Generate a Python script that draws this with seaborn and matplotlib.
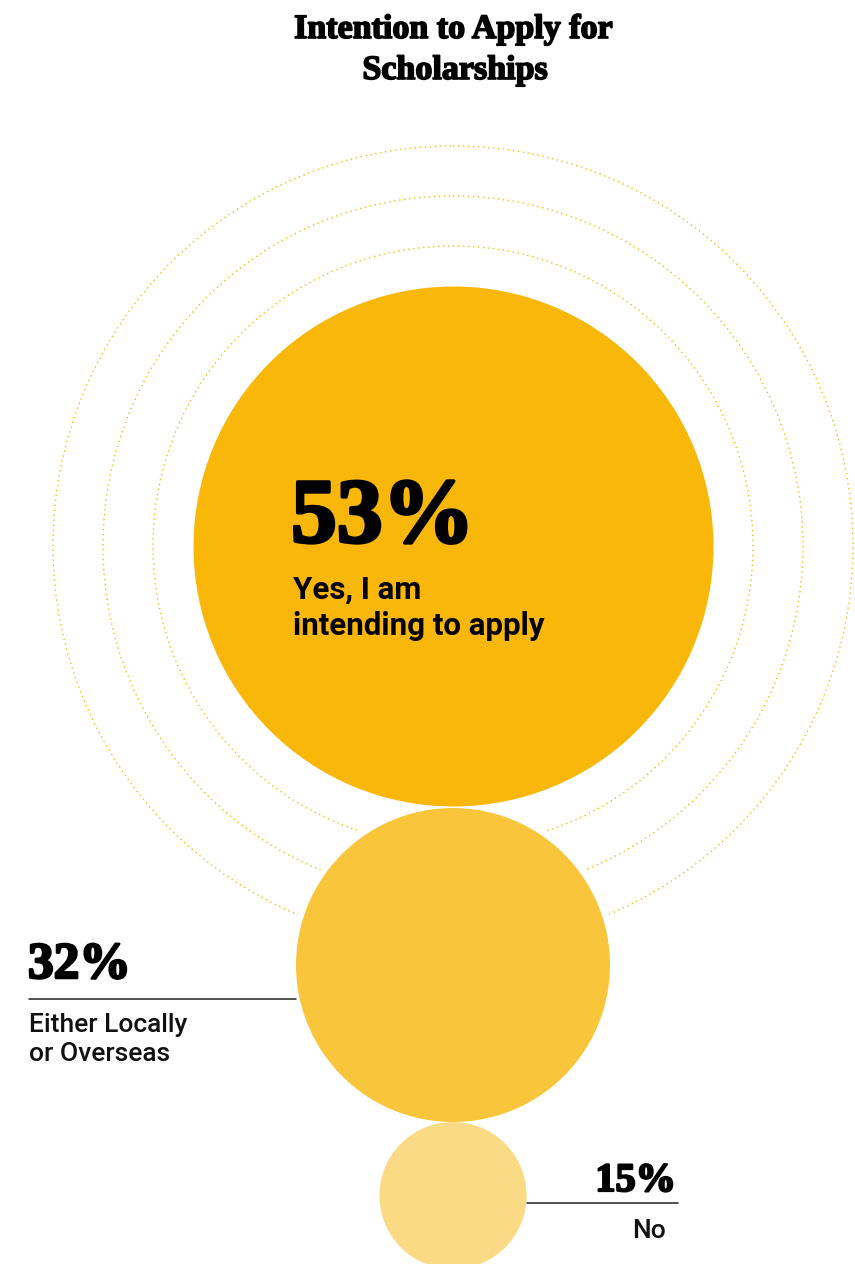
import matplotlib
matplotlib.use("Agg")
import matplotlib.pyplot as plt
import matplotlib.patheffects as pe
from matplotlib.patches import Circle
import seaborn as sns
import pandas as pd

# ---- data ----
categories = ["Yes", "Either", "No"]
values = [53, 32, 15]
pct_labels = ["53%", "32%", "15%"]
descriptions = ["Yes, I am\nintending to apply", "Either Locally\nor Overseas", "No"]
colors = ["#F9B70A", "#F9C53B", "#FBDA86"]
title = "Intention to Apply for\nScholarships"

sns.set_theme(style="white")
plt.rcParams["font.family"] = ["Roboto", "DejaVu Sans"]

W, H, DPI = 855, 1264, 100
fig = plt.figure(figsize=(W / DPI, H / DPI), dpi=DPI)
ax = fig.add_axes([0, 0, 1, 1])

# layout: radius proportional to value
k = 260 / 53
radii = [k * v for v in values]
cx = 453
cy = [546]
cy.append(cy[0] + radii[0] + radii[1] + 2)
cy.append(cy[1] + radii[1] + radii[2])

edge_px = [0, 6, 0]
px2pt = 72 / DPI
sizes = [((2 * r + e) * px2pt) ** 2 for r, e in zip(radii, edge_px)]
df = pd.DataFrame({"x": [cx] * 3, "y": cy, "cat": categories, "s": sizes,
                   "edge": [e * px2pt for e in edge_px]})
palette = dict(zip(categories, colors))

# dotted rings around the main circle
for extra in [40, 90, 140]:
    ax.add_patch(Circle((cx, cy[0]), radii[0] + extra, fill=False,
                        edgecolor=colors[0], lw=1.0, linestyle=(0, (1, 2.6)),
                        zorder=1))

# lower circles (with white halo hiding the rings), then the main circle on top
low = df.iloc[1:]
sns.scatterplot(data=low, x="x", y="y", hue="cat", palette=palette,
                s=low["s"].tolist(), edgecolor="white",
                linewidth=low["edge"].tolist(), legend=False, ax=ax, zorder=2)
top = df.iloc[:1]
sns.scatterplot(data=top, x="x", y="y", hue="cat", palette=palette,
                s=top["s"].tolist(), linewidth=0, legend=False, ax=ax, zorder=3)

ax.set_xlim(0, W)
ax.set_ylim(H, 0)
ax.axis("off")

serif = ["Liberation Serif", "DejaVu Serif"]
stroke = lambda w: [pe.withStroke(linewidth=w, foreground="black")]

# title
t1, t2 = title.split("\n")
ax.text(453, 38, t1, ha="center", va="baseline",
        family=serif, weight="bold", fontsize=24.5, color="black",
        path_effects=stroke(1.2), zorder=5)
ax.text(455, 79, t2, ha="center", va="baseline",
        family=serif, weight="bold", fontsize=24.5, color="black",
        path_effects=stroke(1.2), zorder=5)

# 53%
d0 = descriptions[0].split("\n")
ax.text(291, 542, pct_labels[0], ha="left", va="baseline", family=serif,
        weight="bold", fontsize=66, color="black",
        path_effects=stroke(2.5), zorder=5)
ax.text(293, 599, d0[0], ha="left", va="baseline", weight="bold",
        fontsize=22.5, color="black", zorder=5)
ax.text(293, 635, d0[1], ha="left", va="baseline", weight="bold",
        fontsize=22.5, color="black", zorder=5)

# 32%
d1 = descriptions[1].split("\n")
ax.text(28, 978, pct_labels[1], ha="left", va="baseline", family=serif,
        weight="bold", fontsize=37, color="black",
        path_effects=stroke(1.8), zorder=5)
ax.plot([29, cx - radii[1]], [999, 999], color="#222222", lw=1.1, zorder=2)
ax.text(29, 1032, d1[0], ha="left", va="baseline", weight="medium",
        fontsize=19, color="#111111", zorder=5)
ax.text(29, 1061, d1[1], ha="left", va="baseline", weight="medium",
        fontsize=19, color="#111111", zorder=5)

# 15%
ax.text(676, 1191, pct_labels[2], ha="right", va="baseline", family=serif,
        weight="bold", fontsize=29, color="black",
        path_effects=stroke(1.6), zorder=5)
ax.plot([cx + radii[2], 678], [1203, 1203], color="#222222", lw=1.1, zorder=2)
ax.text(666, 1238, descriptions[2], ha="right", va="baseline", weight="medium",
        fontsize=19, color="#111111", zorder=5)

fig.savefig("out.png", dpi=DPI, facecolor="white")
